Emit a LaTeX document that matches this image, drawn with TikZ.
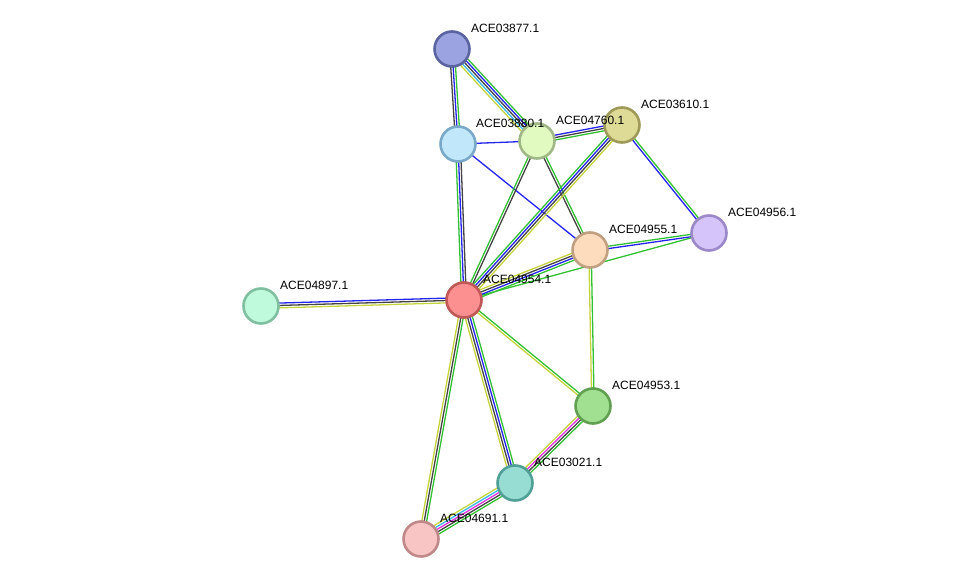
\documentclass[tikz,border=0pt]{standalone}
\usepackage{fontspec}
\setmainfont{Liberation Sans}
\usetikzlibrary{calc,backgrounds}
\definecolor{eg}{HTML}{33C033}
\definecolor{eb}{HTML}{2424F0}
\definecolor{ek}{HTML}{444444}
\definecolor{ey}{HTML}{C4D43A}
\definecolor{ec}{HTML}{38B8E8}
\definecolor{em}{HTML}{E030E0}
\definecolor{fA}{HTML}{9BA3E0}\definecolor{bA}{HTML}{5A64A0}
\definecolor{fB}{HTML}{C0E8FA}\definecolor{bB}{HTML}{7AA8C8}
\definecolor{fC}{HTML}{E0FAC0}\definecolor{bC}{HTML}{A0B888}
\definecolor{fD}{HTML}{DEDB96}\definecolor{bD}{HTML}{A09A5A}
\definecolor{fE}{HTML}{D4C4FA}\definecolor{bE}{HTML}{9A88C8}
\definecolor{fF}{HTML}{FDDCBE}\definecolor{bF}{HTML}{C0A080}
\definecolor{fG}{HTML}{FC9090}\definecolor{bG}{HTML}{C05858}
\definecolor{fH}{HTML}{C0FADC}\definecolor{bH}{HTML}{80C0A0}
\definecolor{fI}{HTML}{A0E090}\definecolor{bI}{HTML}{60A050}
\definecolor{fJ}{HTML}{98DDD4}\definecolor{bJ}{HTML}{50A098}
\definecolor{fK}{HTML}{F8C4C4}\definecolor{bK}{HTML}{C08888}
\tikzset{
  prot/.style={circle, draw=b#1, fill=f#1, line width=2.6pt, minimum size=35pt, inner sep=0pt},
  lbl/.style={anchor=west, font=\fontsize{12}{12}\selectfont, inner sep=0pt},
}
\newcommand\sedge[4]{%
  \foreach \c [count=\i] in {#4}{%
    \pgfmathsetmacro\o{(\i-(#3+1)/2)*2.4}%
    \draw[color=\c, line width=1.3pt] ($(#1)!\o pt!90:(#2)$) -- ($(#2)!\o pt!-90:(#1)$);
  }%
}
\begin{document}
\begin{tikzpicture}[x=1pt,y=-1pt]
\useasboundingbox (0,0) rectangle (976,585);
\node[prot=A] (n03877) at (452,49) {};
\node[prot=B] (n03880) at (458,144) {};
\node[prot=C] (n04760) at (537,141) {};
\node[prot=D] (n03610) at (622,125) {};
\node[prot=E] (n04956) at (709,233) {};
\node[prot=F] (n04955) at (590,250) {};
\node[prot=G] (n04954) at (464,300) {};
\node[prot=H] (n04897) at (261,306) {};
\node[prot=I] (n04953) at (593,406) {};
\node[prot=J] (n03021) at (515,483) {};
\node[prot=K] (n04691) at (421,539) {};
\begin{pgfonlayer}{background}
\sedge{n03877}{n03880}{3}{ek,eb,eg}
\sedge{n03877}{n04760}{5}{ey,ec,ek,eb,eg}
\sedge{n03880}{n04760}{1}{eb}
\sedge{n03880}{n04955}{1}{eb}
\sedge{n03880}{n04954}{3}{eg,eb,ek}
\sedge{n04760}{n03610}{3}{eg,ek,eb}
\sedge{n04760}{n04954}{2}{eg,ek}
\sedge{n04760}{n04955}{2}{ek,eg}
\sedge{n03610}{n04954}{4}{eg,eb,ek,ey}
\sedge{n03610}{n04956}{2}{eb,eg}
\sedge{n04956}{n04955}{2}{eg,eb}
\sedge{n04956}{n04954}{1}{eg}
\sedge{n04955}{n04954}{4}{ey,ek,eb,eg}
\sedge{n04955}{n04953}{2}{ey,eg}
\sedge{n04954}{n04897}{3}{eb,ek,ey}
\sedge{n04954}{n04953}{2}{ey,eg}
\sedge{n04954}{n03021}{4}{ey,ek,eb,eg}
\sedge{n04954}{n04691}{3}{ey,ek,eg}
\sedge{n04953}{n03021}{4}{ey,em,ek,eg}
\sedge{n03021}{n04691}{5}{ey,ec,em,ek,eg}
\end{pgfonlayer}
\node[lbl] (l03877) at ($(n03877)+(19,-21)$) {ACE03877.1};
\node[lbl] (l03880) at ($(n03880)+(18,-21)$) {ACE03880.1};
\node[lbl] (l04760) at ($(n04760)+(19,-21)$) {ACE04760.1};
\node[lbl] (l03610) at ($(n03610)+(19,-21)$) {ACE03610.1};
\node[lbl] (l04956) at ($(n04956)+(19,-21)$) {ACE04956.1};
\node[lbl] (l04955) at ($(n04955)+(19,-21)$) {ACE04955.1};
\node[lbl] (l04954) at ($(n04954)+(19,-21)$) {ACE04954.1};
\node[lbl] (l04897) at ($(n04897)+(19,-21)$) {ACE04897.1};
\node[lbl] (l04953) at ($(n04953)+(19,-21)$) {ACE04953.1};
\node[lbl] (l03021) at ($(n03021)+(19,-21)$) {ACE03021.1};
\node[lbl] (l04691) at ($(n04691)+(19,-21)$) {ACE04691.1};
\end{tikzpicture}
\end{document}
